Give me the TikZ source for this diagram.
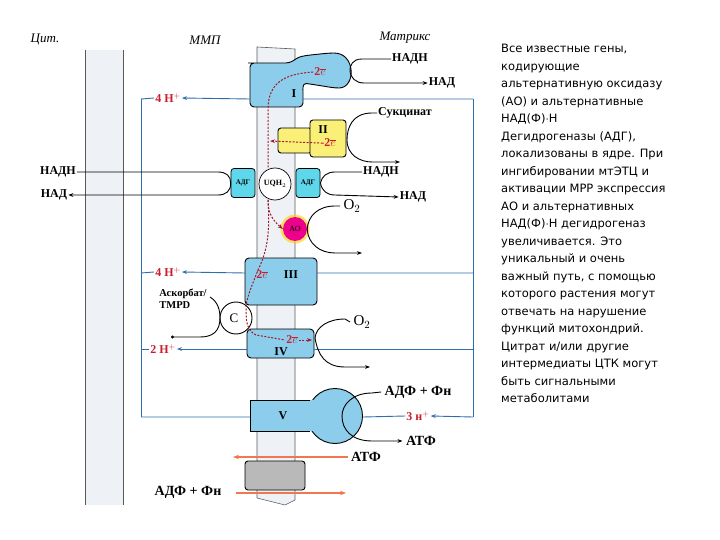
\documentclass[tikz,border=0pt]{standalone}
\usepackage{fontspec}
\setmainfont{Liberation Serif}
\newfontfamily\sidefont{DejaVu Sans}
\usetikzlibrary{arrows.meta,shapes.geometric}
\definecolor{cx}{RGB}{140,205,235}
\definecolor{adg}{RGB}{95,215,235}
\definecolor{yel}{RGB}{250,240,120}
\definecolor{bl}{RGB}{45,110,175}
\definecolor{rd}{RGB}{200,30,45}
\definecolor{og}{RGB}{240,120,80}
\definecolor{memb}{RGB}{238,242,246}
\tikzset{
 cplx/.style={draw=black,line width=0.9pt,fill=cx,rounded corners=4pt},
 lab/.style={font=\bfseries\fontsize{12}{13}\selectfont,inner sep=1pt},
 red/.style={font=\bfseries\fontsize{12}{13}\selectfont,text=rd,inner sep=1pt},
 pr/.style={draw=bl,line width=0.9pt},
 arr/.style={-{Stealth[length=5pt]}},
 bk/.style={draw=black,line width=0.9pt},
 el/.style={draw=rd!80!black,line width=1pt,dash pattern=on 2pt off 1.5pt},
 orange/.style={draw=og,line width=1.6pt,-{Stealth[length=6pt]}}
}
\begin{document}
\begin{tikzpicture}[x=1pt,y=-1pt]
\useasboundingbox[fill=white] (0,0) rectangle (720,540);
% membranes
\fill[memb] (85,50) rectangle (123,505);
\draw[gray!70!black,line width=0.6pt] (85,50) -- (85,505) (123,50) -- (123,505);
\fill[memb] (257,47) -- (295,49) -- (295,500) -- (285,505) -- (257,498) -- cycle;
\draw[gray!70!black,line width=0.6pt] (257,47) -- (295,49) -- (295,500) -- (285,505) -- (257,498) -- cycle;
% headers
\node[font=\itshape\fontsize{13}{13}\selectfont] (hc) at (45,40) {Цит.};
\node[font=\itshape\fontsize{13}{13}\selectfont] (hm) at (205,40) {ММП};
\node[font=\itshape\fontsize{13}{13}\selectfont] (hx) at (405,38) {Матрикс};
% proton loop
\draw[pr] (141,99) -- (141,417) (473,99) -- (473,417);
\coordinate (lt) at (141,99); \coordinate (rt) at (473,99);
% Complex I
\draw[cplx] (252,63) -- (290,63) .. controls (300,56) .. (330,53) .. controls (356,53) and (356,88) .. (335,88) -- (310,84) .. controls (302,83) and (303,92) .. (303,94) -- (303,107) -- (250,107) -- (250,63) -- cycle;
\node[lab] (c1) at (294,94) {I};
\node[red] (e1) at (320,72) {2$\overline{e}$};
\node[lab] (nadh1) at (410,59) {НАДН};
\node[lab] (nad1) at (442,83) {НАД};
\draw[bk] (nadh1.west) -- (362,59) .. controls (352,59) and (350,66) .. (350,70);
\draw[bk,arr] (350,70) .. controls (350,78) and (356,83) .. (364,83) -- (nad1.west);
\node[red] (h1) at (168,98) {4 H$^+$};
\draw[pr,arr] (250,99) -- (h1.east);
\draw[pr] (h1.west) -- (lt) (303,99) -- (rt);
% Complex II
\draw[draw=black,line width=0.9pt,fill=yel,rounded corners=3pt] (278,128) rectangle (312,153);
\draw[draw=black,line width=0.9pt,fill=yel,rounded corners=3pt] (310,120) rectangle (346,157);
\node[lab] (c2) at (323,130) {II};
\node[red] (e2) at (328,143) {-2$\overline{e}$};
\draw[el,arr] (e2.west) -- (270,141);
\node[lab] (succ) at (405,113) {Сукцинат};
\draw[bk] (succ.west) -- (372,113) .. controls (352,113) and (347,128) .. (347,140);
\draw[bk,arr] (347,140) .. controls (347,155) and (360,162) .. (372,162) -- (400,162);
% UQ and ADH
\draw[draw=black,line width=0.7pt,fill=white] (275,184) circle (16);
\node[font=\bfseries\fontsize{8}{9}\selectfont] (uq) at (275,184) {UQH$_2$};
\node[draw=black,line width=0.8pt,fill=adg,rounded corners=3pt,minimum width=24pt,minimum height=29pt,inner sep=0pt,font=\bfseries\fontsize{7}{8}\selectfont] (a1) at (243,183) {АДГ};
\node[draw=black,line width=0.8pt,fill=adg,rounded corners=3pt,minimum width=24pt,minimum height=29pt,inner sep=0pt,font=\bfseries\fontsize{7}{8}\selectfont] (a2) at (308,183) {АДГ};
\node[lab] (nadhl) at (58,172) {НАДН};
\node[lab] (nadl) at (54,195) {НАД};
\draw[bk] (nadhl.east) -- (218,172) .. controls (226,172) and (231,176) .. (a1.west);
\draw[bk,arr] (a1.west) .. controls (231,191) and (226,195) .. (218,195) -- (nadl.east);
\node[lab] (nadhr) at (381,172) {НАДН};
\node[lab] (nadr) at (413,197) {НАД};
\draw[bk] (nadhr.west) -- (335,172) .. controls (327,172) and (322,176) .. (a2.east);
\draw[bk,arr] (a2.east) .. controls (322,191) and (327,195) .. (335,195) -- (nadr.west);
% AO
\fill[yellow!70!orange,opacity=0.6] (295,229) circle (14.5);
\node[circle,fill=magenta,minimum size=24pt,inner sep=0pt,font=\fontsize{8}{8}\selectfont] (ao) at (295,229) {АО};
\node[font=\fontsize{15}{15}\selectfont] (o2a) at (352,206) {O$_2$};
\draw[bk] (o2a.west) -- (335,206) .. controls (318,206) and (308,216) .. (ao.east);
\draw[bk,arr] (ao.east) .. controls (308,244) and (320,253) .. (335,253) -- (362,253);
% Complex III
\draw[cplx] (245,258) rectangle (317,305);
\node[lab] (c3) at (291,275) {III};
\node[red] (e3) at (262,275) {2$\overline{e}$};
\node[red] (h3) at (168,272) {4 H$^+$};
\draw[pr,arr] (245,273) -- (h3.east);
\draw[pr] (h3.west) -- (141,273) (317,273) -- (473,273);
% C
\draw[bk] (236,318) circle (16);
\node[font=\fontsize{13}{13}\selectfont] (cc) at (234,318) {C};
\node[font=\bfseries\fontsize{10.5}{12}\selectfont,align=left,inner sep=0pt] (asc) at (183,299) {Аскорбат/\\TMPD};
\draw[bk] (210,297) .. controls (218,302) and (220,310) .. (220,318);
\draw[bk,-{Circle[length=3pt]}] (220,318) .. controls (220,332) and (212,337) .. (200,337) -- (171,337);
% Complex IV
\draw[cplx] (247,329) rectangle (314,358);
\node[lab] (c4) at (281,352) {IV};
\node[red] (e4) at (292,340) {2$\overline{e}$};
\node[red] (h4) at (163,349) {2 H$^+$};
\draw[pr,arr] (247,349) -- (h4.east);
\draw[pr] (h4.west) -- (141,349) (314,349) -- (473,349);
\node[font=\fontsize{15}{15}\selectfont] (o2b) at (362,322) {O$_2$};
\draw[bk] (o2b.west) -- (345,319) .. controls (328,319) and (316,327) .. (315,338);
\draw[bk,arr] (315,338) .. controls (318,355) and (325,367) .. (345,367) -- (370,367);
% electron path
\draw[el] (e1.west) .. controls (285,74) and (268,82) .. (268,110) -- (268,168);
\draw[el,arr] (268,200) .. controls (268,210) and (270,218) .. (ao.west);
\draw[el] (268,200) .. controls (270,230) and (268,250) .. (258,270) .. controls (252,285) and (248,295) .. (246,305);
\draw[el] (246,305) .. controls (246,320) and (246,330) .. (256,335) -- (e4.west);
\draw[el,arr] (e4.east) -- (312,340);
% Complex V
\draw[line width=0.9pt,fill=cx] (335,416) circle (27.5);
\fill[cx] (250,400) rectangle (318,431);
\draw[line width=0.9pt] (310,400) -- (250,400) -- (250,431) -- (310,431);
\node[lab] (c5) at (283,416) {V};
\node[font=\bfseries\fontsize{14}{14}\selectfont] (adf1) at (418,392) {АДФ + Фн};
\node[font=\bfseries\fontsize{14}{14}\selectfont] (atf1) at (421,441) {АТФ};
\draw[bk] (adf1.west) -- (372,393) .. controls (352,393) and (342,405) .. (342,416);
\draw[bk,arr] (342,416) .. controls (342,430) and (352,441) .. (372,441) -- (atf1.west);
\node[red] (h5) at (418,416) {3 н$^+$};
\draw[pr,arr] (473,417) -- (h5.east);
\draw[pr] (h5.west) -- (363,417) (250,417) -- (141,417);
% transporter
\node[font=\bfseries\fontsize{14}{14}\selectfont] (atf2) at (366,457) {АТФ};
\draw[orange] (atf2.west) -- (233,457);
\draw[line width=0.9pt,fill=gray!55,rounded corners=3pt] (245,461) rectangle (305,490);
\node[font=\bfseries\fontsize{14}{14}\selectfont] (adf2) at (188,492) {АДФ + Фн};
\draw[orange] (236,493) -- (346,493);
% side text
\node[font=\sidefont\fontsize{11.5}{17.5}\selectfont,align=left,anchor=north west,inner sep=0pt] (txt) at (501,44) {Все известные гены,\\кодирующие\\альтернативную оксидазу\\(АО) и альтернативные\\НАД(Ф)$\cdot$Н\\Дегидрогеназы (АДГ),\\локализованы в ядре. При\\ингибировании мтЭТЦ и\\активации МРР экспрессия\\АО и альтернативных\\НАД(Ф)$\cdot$Н дегидрогеназ\\увеличивается. Это\\уникальный и очень\\важный путь, с помощью\\которого растения могут\\отвечать на нарушение\\функций митохондрий.\\Цитрат и/или другие\\интермедиаты ЦТК могут\\быть сигнальными\\метаболитами};
\end{tikzpicture}
\end{document}
